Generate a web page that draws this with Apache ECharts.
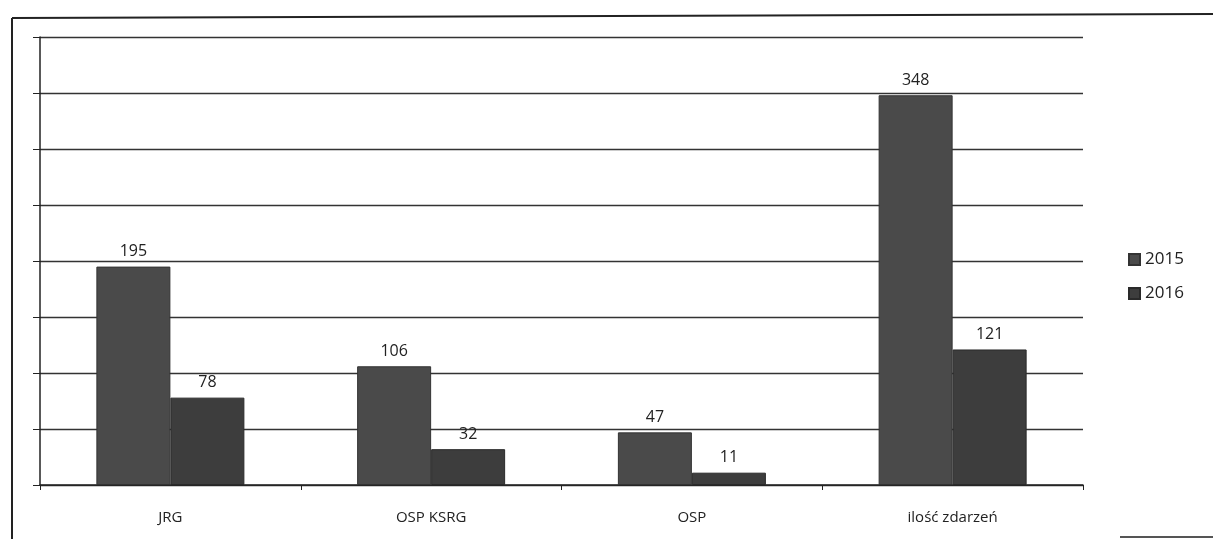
<!DOCTYPE html>
<html><head><meta charset="utf-8">
<script src="https://cdn.jsdelivr.net/npm/echarts@6/dist/echarts.min.js"></script>
<style>html,body{margin:0;padding:0;background:#fff}#c{width:1213px;height:539px}</style>
</head><body><div id="c"></div>
<script>
const categories = ['JRG', 'OSP KSRG', 'OSP', 'ilość zdarzeń'];
const seriesNames = ['2015', '2016'];
const values2015 = [195, 106, 47, 348];
const values2016 = [78, 32, 11, 121];

const chart = echarts.init(document.getElementById('c'));
const labelStyle = {show: true, position: 'top', distance: 7, fontFamily: 'Open Sans', fontSize: 16, color: '#222'};
chart.setOption({
  animation: false,
  backgroundColor: '#fff',
  grid: {left: 40, right: 130, top: 37, bottom: 54},
  legend: {
    orient: 'vertical', left: 1123, top: 246, itemGap: 17,
    itemWidth: 11, itemHeight: 11, icon: 'rect',
    textStyle: {fontFamily: 'Open Sans', fontSize: 17, color: '#222'},
    data: seriesNames
  },
  graphic: [
    {type: 'line', shape: {x1: 12, y1: 18, x2: 1213, y2: 14}, style: {stroke: '#222', lineWidth: 2}},
    {type: 'line', shape: {x1: 12, y1: 18, x2: 12, y2: 539}, style: {stroke: '#222', lineWidth: 2}},
    {type: 'line', shape: {x1: 1120, y1: 537, x2: 1213, y2: 537}, style: {stroke: '#555', lineWidth: 2}}
  ],
  xAxis: {
    type: 'category', data: categories,
    axisLine: {lineStyle: {color: '#222', width: 1.5}},
    axisTick: {show: true, length: 5, lineStyle: {color: '#222'}},
    axisLabel: {margin: 25, fontFamily: 'Open Sans', fontSize: 15, color: '#222'}
  },
  yAxis: {
    type: 'value', min: 0, max: 400, interval: 50,
    axisLine: {show: true, lineStyle: {color: '#222', width: 1.5}},
    axisTick: {show: true, length: 7, lineStyle: {color: '#222'}},
    axisLabel: {show: false},
    splitLine: {lineStyle: {color: '#333', width: 1.3}}
  },
  series: [
    {name: seriesNames[0], type: 'bar', data: values2015, barWidth: 74, barGap: '0%',
     itemStyle: {color: '#4a4a4a', borderColor: '#333', borderWidth: 1}, label: labelStyle},
    {name: seriesNames[1], type: 'bar', data: values2016, barWidth: 74,
     itemStyle: {color: '#3d3d3d', borderColor: '#2a2a2a', borderWidth: 1}, label: labelStyle}
  ]
});
</script></body></html>
